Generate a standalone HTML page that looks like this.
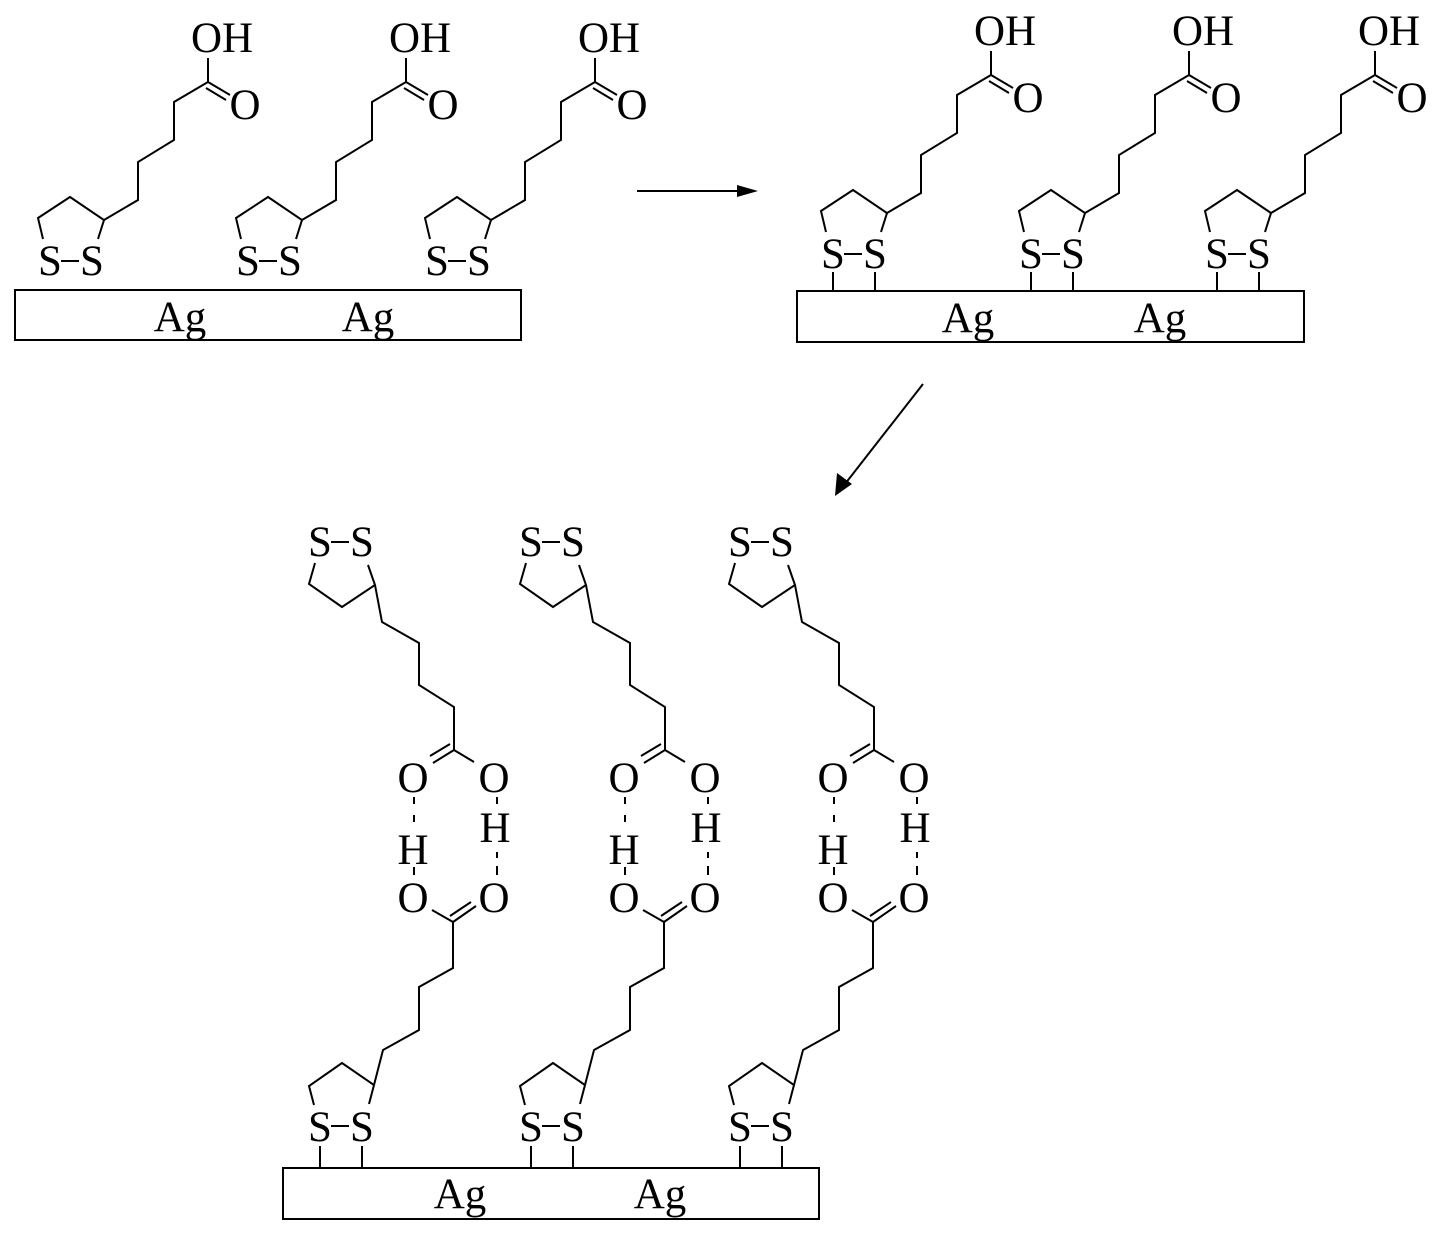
<!DOCTYPE html>
<html><head><meta charset="utf-8"><style>
html,body{margin:0;padding:0;background:#fff;}
svg{display:block;}
text{font-family:"Liberation Serif",serif;font-size:43px;fill:#000;}
</style></head><body>
<svg width="1433" height="1234" viewBox="0 0 1433 1234" xmlns="http://www.w3.org/2000/svg">
<defs>
<g id="mA" fill="none" stroke="#000" stroke-width="2">
  <line x1="208" y1="58" x2="208" y2="82"/>
  <line x1="208" y1="82" x2="230" y2="95"/>
  <line x1="206" y1="88" x2="226" y2="100"/>
  <polyline points="208,82 174,102 174,140 138,162 138,200 104,220"/>
  <polyline points="98,239 104,220 70,197 38,218 43,239"/>
  <line x1="61" y1="261" x2="79" y2="261"/>
  <text x="222" y="52" text-anchor="middle" stroke="none">OH</text>
  <text x="245" y="119" text-anchor="middle" stroke="none">O</text>
  <text x="50" y="275" text-anchor="middle" stroke="none">S</text>
  <text x="92" y="275" text-anchor="middle" stroke="none">S</text>
</g>
<g id="mB" fill="none" stroke="#000" stroke-width="2">
  <line x1="331" y1="542" x2="349" y2="542"/>
  <text x="320" y="556" text-anchor="middle" stroke="none">S</text>
  <text x="362" y="556" text-anchor="middle" stroke="none">S</text>
  <polyline points="315,563 309,584 342,607 375,585 368,565"/>
  <polyline points="375,585 382,622 419,643 419,685 454,707 454,750"/>
  <line x1="454" y1="750" x2="433" y2="763"/>
  <line x1="450" y1="744" x2="430" y2="756"/>
  <line x1="454" y1="750" x2="474" y2="762"/>
  <text x="413" y="792" text-anchor="middle" stroke="none">O</text>
  <text x="494" y="792" text-anchor="middle" stroke="none">O</text>
  <text x="413" y="864" text-anchor="middle" stroke="none">H</text>
  <text x="495" y="842" text-anchor="middle" stroke="none">H</text>
  <line x1="414" y1="797" x2="414" y2="804"/>
  <line x1="414" y1="815" x2="414" y2="822"/>
  <line x1="414" y1="867" x2="414" y2="875"/>
  <line x1="497" y1="797" x2="497" y2="804"/>
  <line x1="497" y1="852" x2="497" y2="858"/>
  <line x1="497" y1="866" x2="497" y2="875"/>
  <text x="413" y="912" text-anchor="middle" stroke="none">O</text>
  <text x="494" y="912" text-anchor="middle" stroke="none">O</text>
  <line x1="432" y1="910" x2="453" y2="922"/>
  <line x1="453" y1="922" x2="476" y2="906"/>
  <line x1="450" y1="916" x2="471" y2="902"/>
  <polyline points="453,922 453,968 419,987 419,1030 383,1050 374,1085"/>
  <polyline points="369,1104 374,1085 342,1063 309,1086 314,1105"/>
  <line x1="331" y1="1126" x2="349" y2="1126"/>
  <text x="320" y="1141" text-anchor="middle" stroke="none">S</text>
  <text x="362" y="1141" text-anchor="middle" stroke="none">S</text>
  <line x1="320" y1="1146" x2="320" y2="1168"/>
  <line x1="362" y1="1146" x2="362" y2="1168"/>
</g>
<g id="legs" stroke="#000" stroke-width="2">
  <line x1="50" y1="279" x2="50" y2="298"/>
  <line x1="92" y1="279" x2="92" y2="298"/>
</g>
</defs>

<use href="#mA"/>
<use href="#mA" transform="translate(198,0)"/>
<use href="#mA" transform="translate(387,0)"/>
<rect x="15" y="290" width="506" height="50" fill="none" stroke="#000" stroke-width="2"/>
<text x="180" y="331" text-anchor="middle">Ag</text>
<text x="368" y="331" text-anchor="middle">Ag</text>

<line x1="637" y1="191" x2="740" y2="191" stroke="#000" stroke-width="2"/>
<polygon points="758,191 737,185 737,197" fill="#000"/>

<use href="#mA" transform="translate(783,-7)"/>
<use href="#mA" transform="translate(981,-7)"/>
<use href="#mA" transform="translate(1167,-7)"/>
<use href="#legs" transform="translate(783,-7)"/>
<use href="#legs" transform="translate(981,-7)"/>
<use href="#legs" transform="translate(1167,-7)"/>
<rect x="797" y="291" width="507" height="51" fill="none" stroke="#000" stroke-width="2"/>
<text x="968" y="332" text-anchor="middle">Ag</text>
<text x="1160" y="332" text-anchor="middle">Ag</text>

<line x1="923" y1="384" x2="845" y2="484" stroke="#000" stroke-width="2"/>
<polygon points="835,496 837,473 852,484" fill="#000"/>

<use href="#mB"/>
<use href="#mB" transform="translate(211,0)"/>
<use href="#mB" transform="translate(420,0)"/>
<rect x="283" y="1168" width="536" height="51" fill="none" stroke="#000" stroke-width="2"/>
<text x="460" y="1208" text-anchor="middle">Ag</text>
<text x="660" y="1208" text-anchor="middle">Ag</text>
</svg>
</body></html>
